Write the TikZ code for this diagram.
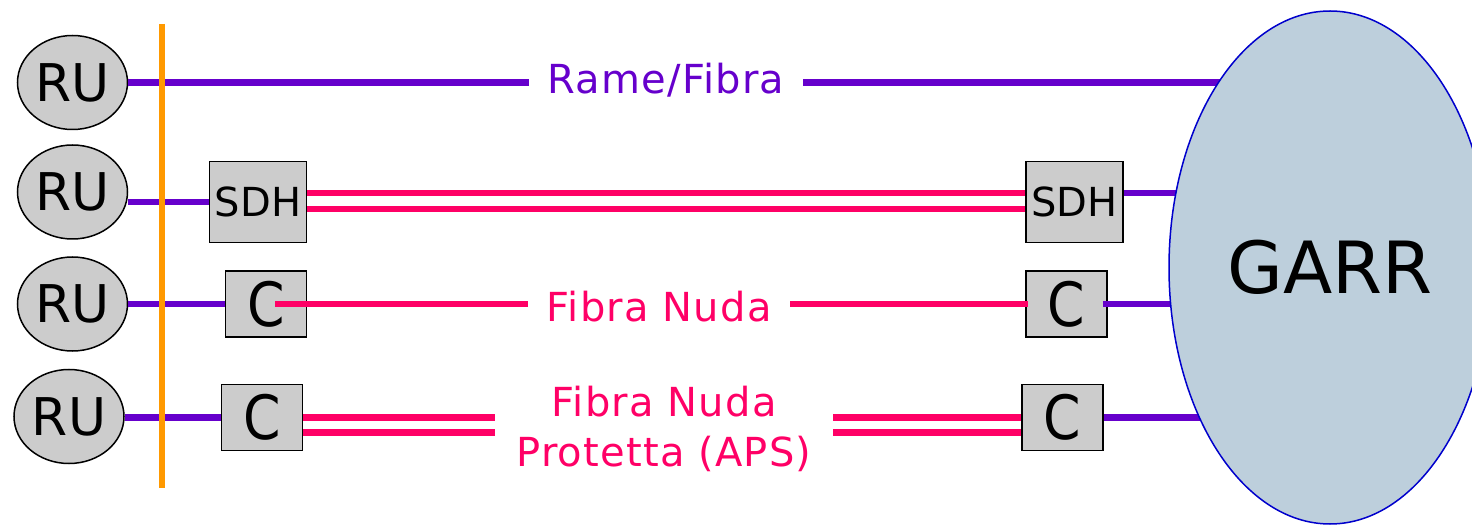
\documentclass[tikz,border=0pt]{standalone}
\usepackage{fontspec}
\newfontfamily\dv{DejaVu Sans}
\newfontfamily\dvls[LetterSpace=3]{DejaVu Sans}
\usetikzlibrary{shapes.geometric}
\definecolor{purp}{HTML}{6600CC}
\definecolor{pinkc}{HTML}{FF0066}
\definecolor{orangec}{HTML}{FF9900}
\definecolor{boxgray}{HTML}{CCCCCC}
\definecolor{garrfill}{HTML}{BDCFDC}
\definecolor{garrline}{HTML}{0000CC}
\begin{document}
\begin{tikzpicture}[x=1pt,y=-1pt,
  ru/.style={ellipse, draw=black, line width=1.5pt, fill=boxgray, minimum width=110pt, minimum height=94pt, inner sep=0pt, font=\dv\fontsize{52}{60}\selectfont},
  sdhbox/.style={rectangle, draw=black, line width=1.5pt, fill=boxgray, minimum width=97pt, minimum height=81pt, inner sep=0pt, font=\dv\fontsize{40}{48}\selectfont},
  cbox/.style={rectangle, draw=black, line width=1.5pt, fill=boxgray, minimum width=81pt, minimum height=66pt, inner sep=0pt, font=\dv\fontsize{61}{70}\selectfont},
  pur/.style={draw=purp, line width=6.5pt},
  pnk/.style={draw=pinkc, line width=6.5pt},
  lab/.style={inner sep=0pt, font=\dvls\fontsize{40}{50}\selectfont, align=center},
  garrstyle/.style={ellipse, draw=garrline, line width=1.5pt, fill=garrfill, minimum width=322pt, minimum height=513pt, inner sep=0pt, font=\dv\fontsize{72}{80}\selectfont}
]
\clip (0,0) rectangle (1472,526);
\coordinate (gc) at (1330,267.5);
% user nodes
\node[ru] (ru1) at (72.5,82.5) {RU};
\node[ru] (ru2) at (72.5,192) {RU};
\node[ru] (ru3) at (72.5,304) {RU};
\node[ru] (ru4) at (69,416.5) {RU};
% boxes
\node[sdhbox] (sdhL) at (258,202) {SDH};
\node[sdhbox] (sdhR) at (1074.5,202) {SDH};
\node[cbox] (cL3) at (266,304) {\scalebox{0.88}[1]{C}};
\node[cbox] (cR3) at (1066.5,304) {\scalebox{0.88}[1]{C}};
\node[cbox] (cL4) at (262,417.5) {\scalebox{0.88}[1]{C}};
\node[cbox] (cR4) at (1062.5,417.5) {\scalebox{0.88}[1]{C}};
% labels
\node[lab, text=purp, minimum width=274pt] (lab1) at (666,80) {Rame/Fibra};
\node[lab, text=pinkc, minimum width=262pt] (lab3) at (659,307) {Fibra Nuda};
\node[lab, text=pinkc, minimum width=338pt] (lab4) at (664,429) {Fibra Nuda\\Protetta (APS)};
% row 1
\draw[pur] (ru1.east) -- (ru1.east -| lab1.west);
\draw[pur] (ru1.east -| lab1.east) -- (ru1.east -| gc);
% row 2
\draw[pur] (ru2.east |- sdhL.west) -- (sdhL.west);
\draw[pnk] ([yshift=9pt]sdhL.east) -- ([yshift=9pt]sdhR.west);
\draw[pnk] ([yshift=-7pt]sdhL.east) -- ([yshift=-7pt]sdhR.west);
\draw[pur] ([yshift=9pt]sdhR.east) -- ([yshift=9pt]sdhR.east -| gc);
% row 3
\draw[pur] (ru3.east) -- (ru3.east -| cL3.west);
\draw[pnk] ([xshift=9pt]cL3.center) -- (cL3.center -| lab3.west);
\draw[pnk] (cL3.center -| lab3.east) -- ([xshift=3pt]cR3.west);
\draw[pur] ([xshift=-5pt]cR3.east) -- (cR3.east -| gc);
% row 4
\draw[pur] (ru4.east |- cL4.west) -- (cL4.west);
\draw[pnk] (cL4.east) -- (cL4.east -| lab4.west);
\draw[pnk] ([yshift=-15pt]cL4.east) -- ([yshift=-15pt]cL4.east -| lab4.west);
\draw[pnk] (cL4.east -| lab4.east) -- (cR4.west);
\draw[pnk] ([yshift=-15pt]cL4.east -| lab4.east) -- ([yshift=-15pt]cR4.west);
\draw[pur] (cR4.east) -- (cR4.east -| gc);
% orange bus
\draw[draw=orangec, line width=6.5pt] (162,24) -- (162,488);
% GARR cloud
\node[garrstyle] (garr) at (gc) {GARR};
\end{tikzpicture}
\end{document}
